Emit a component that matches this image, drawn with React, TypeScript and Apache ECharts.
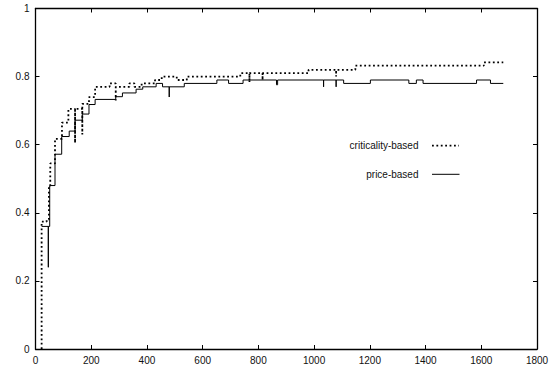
import React, { useEffect, useRef } from "react";
import * as echarts from "echarts";

// criticality-based (dotted) step curve: value holds from x until the next x
const criticalityX = [22, 22, 40, 48, 53, 70, 95, 118, 142, 142, 168, 168, 192, 214, 266, 288, 288, 337, 355, 381, 429, 453, 507, 543, 735, 768, 768, 815, 815, 980, 1079, 1079, 1148, 1609, 1679];
const criticalityY = [0, 0.374, 0.38, 0.48, 0.545, 0.617, 0.665, 0.705, 0.605, 0.705, 0.63, 0.72, 0.74, 0.77, 0.78, 0.73, 0.77, 0.78, 0.77, 0.78, 0.79, 0.8, 0.79, 0.8, 0.81, 0.783, 0.81, 0.79, 0.81, 0.82, 0.8, 0.82, 0.832, 0.842, 0.842];

// price-based (solid) step curve
const priceX = [22, 46, 46, 51, 70, 94, 121, 142, 168, 192, 214, 288, 312, 361, 385, 433, 456, 480, 480, 534, 651, 693, 745, 865, 869, 1034, 1034, 1079, 1079, 1106, 1202, 1340, 1367, 1391, 1583, 1633, 1679];
const priceY = [0.36, 0.24, 0.36, 0.48, 0.572, 0.624, 0.64, 0.672, 0.69, 0.718, 0.733, 0.741, 0.752, 0.763, 0.77, 0.78, 0.77, 0.74, 0.77, 0.78, 0.79, 0.78, 0.79, 0.776, 0.79, 0.77, 0.79, 0.77, 0.79, 0.78, 0.79, 0.78, 0.79, 0.78, 0.79, 0.78, 0.78];

const seriesNames = ["criticality-based", "price-based"];

const xMin = 0, xMax = 1800, xStep = 200;
const yMin = 0, yMax = 1, yStep = 0.2;

const FONT = "'Liberation Sans', Arial, Helvetica, sans-serif";

export default function App() {
  const ref = useRef<HTMLDivElement>(null);
  useEffect(() => {
    if (!ref.current) return;
    const chart = echarts.init(ref.current, null, { renderer: "svg" });
    const zip = (xs: number[], ys: number[]) => xs.map((x, i) => [x, ys[i]]);
    const axisLine = { show: true, onZero: false, lineStyle: { color: "#000", width: 1.3 } };
    const tick = { show: true, inside: true, length: 4, lineStyle: { color: "#000", width: 1 } };
    const label = { color: "#111", fontSize: 10, fontFamily: FONT, margin: 6, formatter: (v: number) => String(v) };
    chart.setOption({
      animation: false,
      backgroundColor: "#fff",
      grid: { left: 35.5, right: 21, top: 8.5, bottom: 22, containLabel: false },
      xAxis: [
        { type: "value", min: xMin, max: xMax, interval: xStep, position: "bottom", axisLine, axisTick: tick, axisLabel: label, splitLine: { show: false } },
        { type: "value", min: xMin, max: xMax, interval: xStep, position: "top", axisLine, axisTick: tick, axisLabel: { show: false }, splitLine: { show: false } },
      ],
      yAxis: [
        { type: "value", min: yMin, max: yMax, interval: yStep, position: "left", axisLine, axisTick: tick, axisLabel: label, splitLine: { show: false } },
        { type: "value", min: yMin, max: yMax, interval: yStep, position: "right", axisLine, axisTick: tick, axisLabel: { show: false }, splitLine: { show: false } },
      ],
      series: [
        {
          name: seriesNames[0],
          type: "line",
          step: "end",
          showSymbol: false,
          symbol: "none",
          data: zip(criticalityX, criticalityY),
          lineStyle: { color: "#000", width: 1.8, type: [1.8, 2.6], cap: "butt" },
        },
        {
          name: seriesNames[1],
          type: "line",
          step: "end",
          showSymbol: false,
          symbol: "none",
          data: zip(priceX, priceY),
          lineStyle: { color: "#000", width: 1 },
        },
      ],
      graphic: [
        { type: "text", x: 418.5, y: 145.7, style: { text: seriesNames[0], textAlign: "right", textVerticalAlign: "middle", fontSize: 10, fontFamily: FONT, fill: "#111" } },
        { type: "line", shape: { x1: 432, y1: 145.7, x2: 459, y2: 145.7 }, style: { stroke: "#000", lineWidth: 1.8, lineDash: [1.8, 2.6] } },
        { type: "text", x: 418.5, y: 174.3, style: { text: seriesNames[1], textAlign: "right", textVerticalAlign: "middle", fontSize: 10, fontFamily: FONT, fill: "#111" } },
        { type: "line", shape: { x1: 432, y1: 174.3, x2: 459.5, y2: 174.3 }, style: { stroke: "#000", lineWidth: 1 } },
      ],
    });
    return () => chart.dispose();
  }, []);
  return <div ref={ref} style={{ position: "absolute", left: 0, top: 0, width: 558, height: 371 }} />;
}
